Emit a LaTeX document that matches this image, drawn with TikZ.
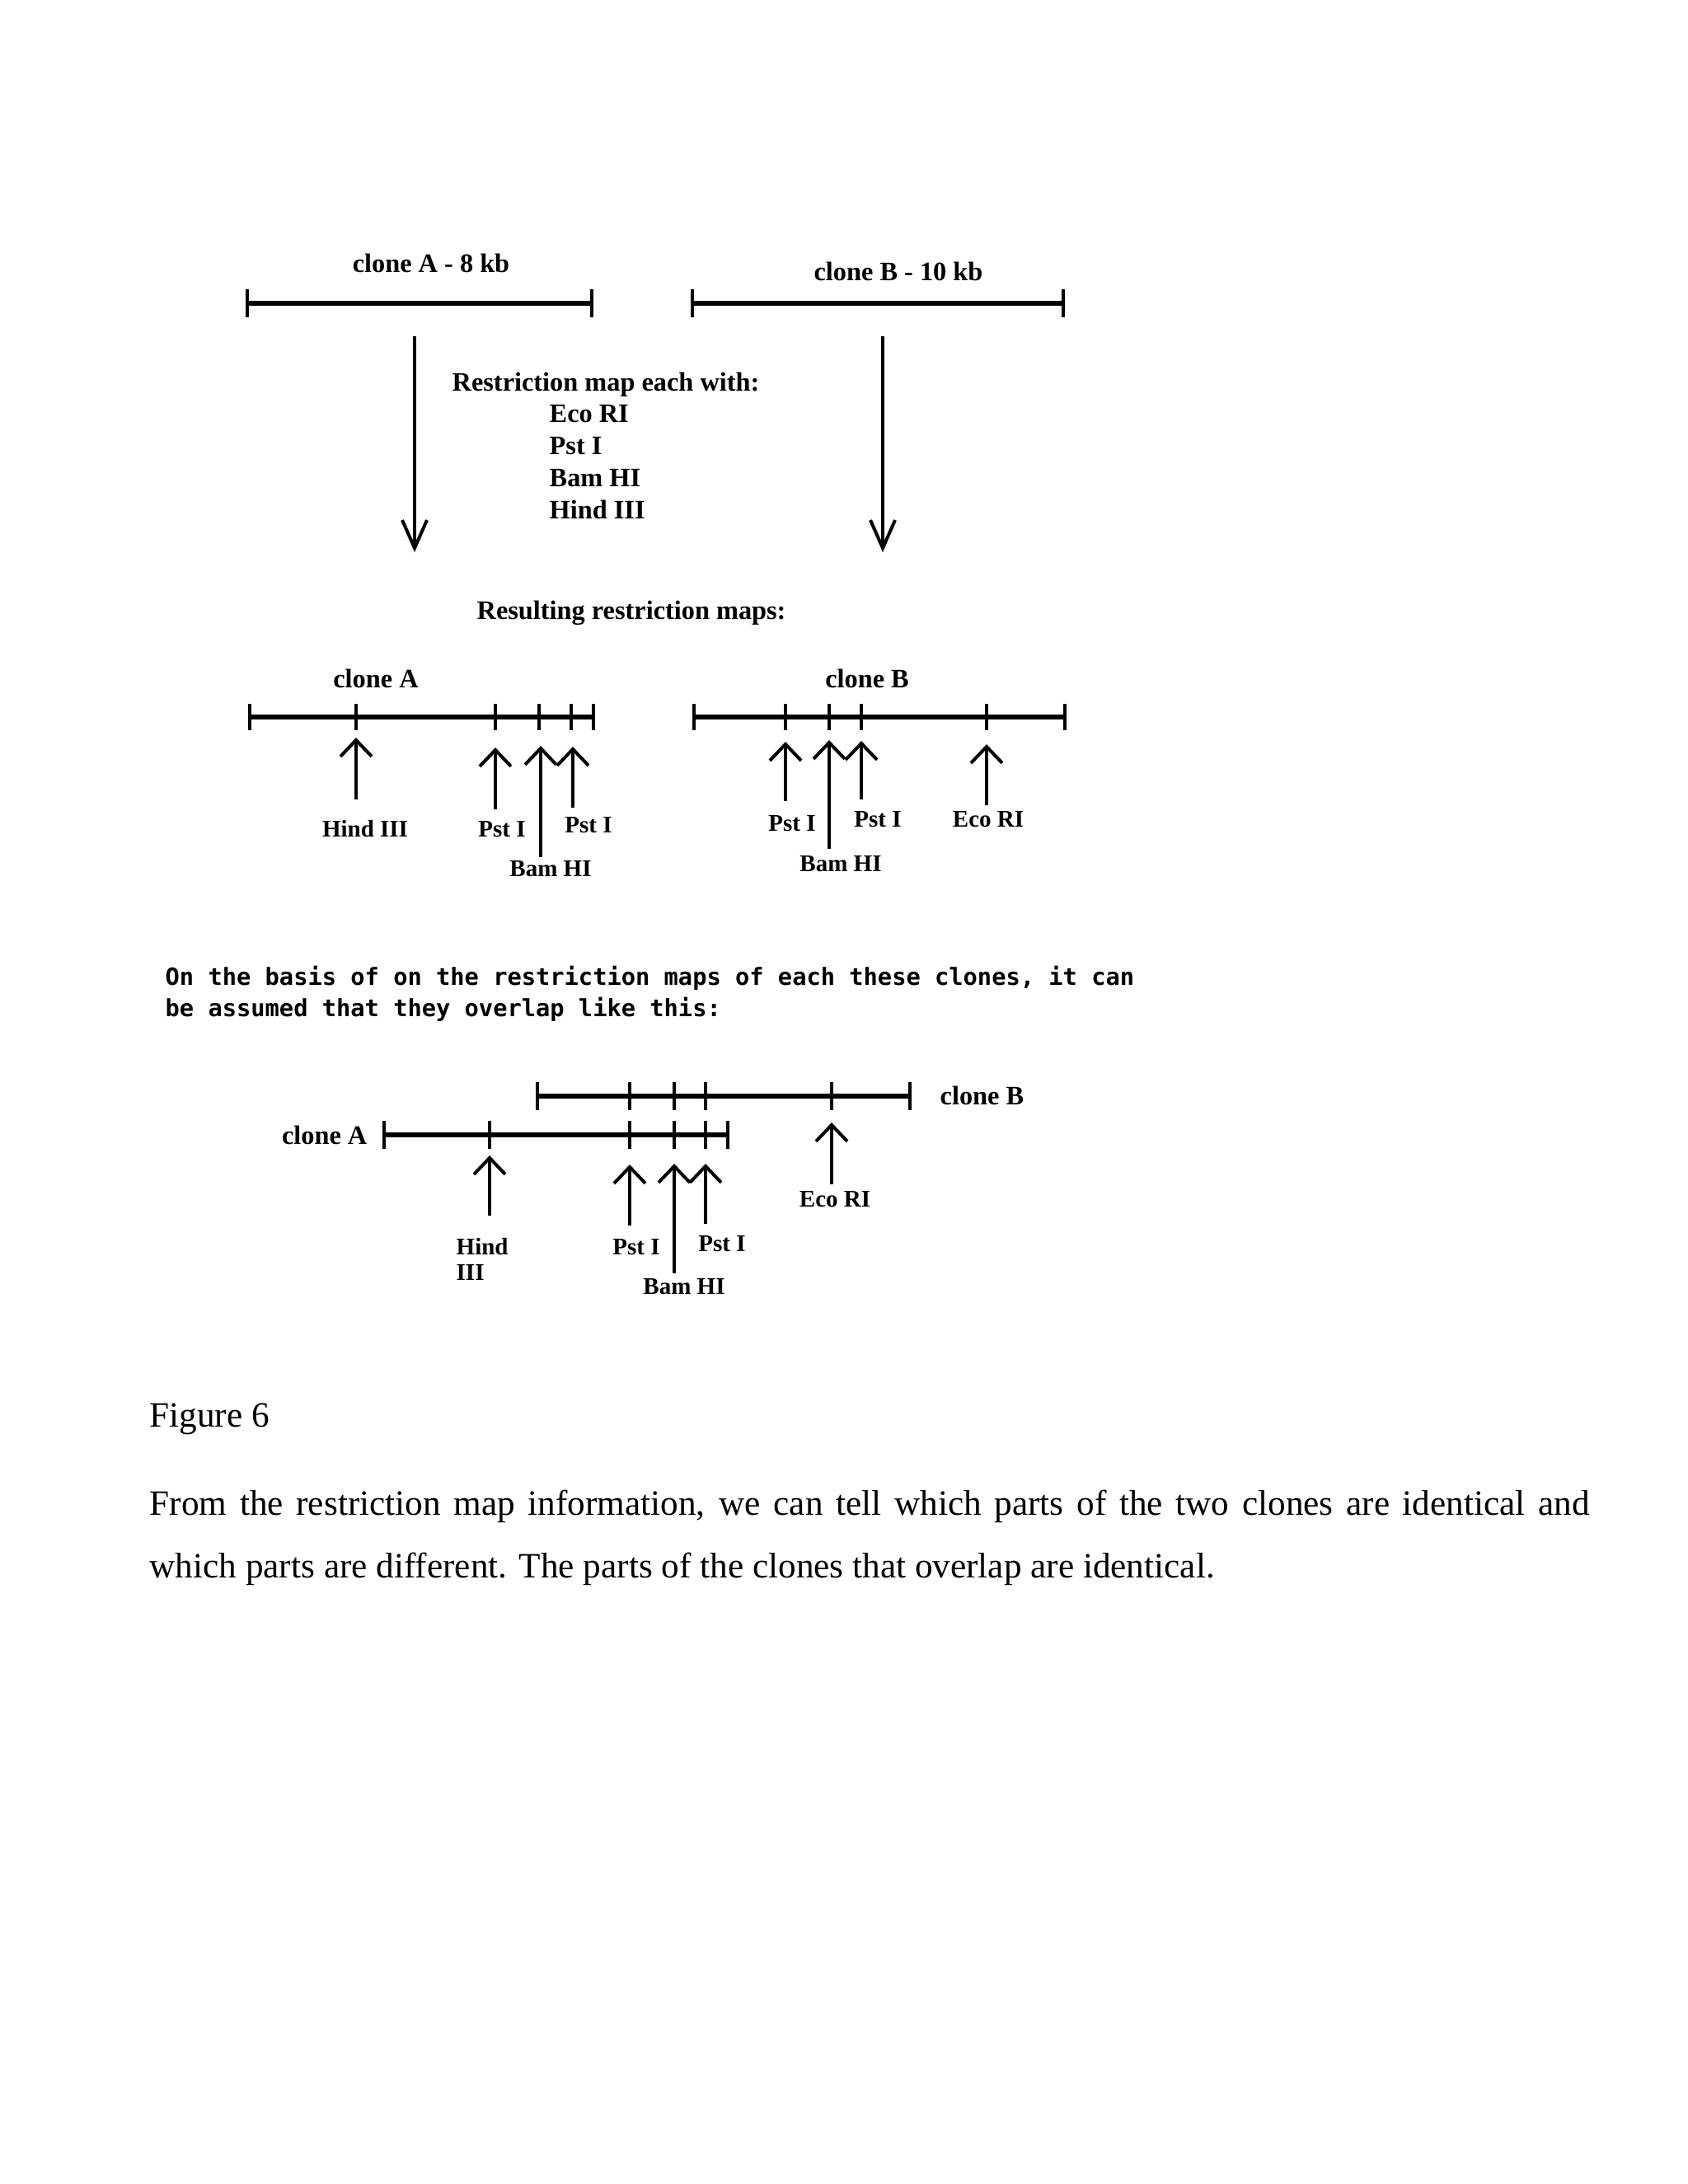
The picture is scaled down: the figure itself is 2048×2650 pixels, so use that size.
\documentclass[tikz,border=0pt]{standalone}
\usepackage{fontspec}
\setmainfont{Liberation Serif}
\newfontfamily\monof{DejaVu Sans Mono}
\usetikzlibrary{arrows.meta}
\begin{document}
\begin{tikzpicture}[x=0.1mm,y=-0.1mm,
  bar/.style={line width=0.55mm},
  endtick/.style={line width=0.4mm},
  bigarrow/.style={line width=0.4mm,-{Straight Barb[length=3.4mm,width=3mm]}},
  sitearrow/.style={line width=0.4mm,-{Straight Barb[length=2mm,width=3.8mm]}},
  head/.style={font=\bfseries\fontsize{9.2pt}{11pt}\selectfont,inner sep=0pt,anchor=base},
  headw/.style={head,anchor=base west},
  site/.style={font=\bfseries\fontsize{8.25pt}{10pt}\selectfont,inner sep=0pt,anchor=base},
  sitew/.style={site,anchor=base west},
  mono/.style={font=\monof\bfseries\fontsize{8.17pt}{10pt}\selectfont,inner sep=0pt,anchor=base west},
  body/.style={font=\fontsize{12.3pt}{14pt}\selectfont,inner sep=0pt,anchor=base west}]
\useasboundingbox[fill=white] (0,0) rectangle (2048,2650);

% ---------- top: the two clones ----------
\node[head] (tA) at (523,330) {clone A - 8 kb};
\node[head] (tB) at (1090,340) {clone B - 10 kb};
\coordinate (a1l) at (300,368); \coordinate (a1r) at (718,368);
\coordinate (b1l) at (840,368); \coordinate (b1r) at (1290,368);
\draw[bar] (a1l) -- (a1r);
\draw[bar] (b1l) -- (b1r);
\foreach \x in {300,718,840,1290}{\draw[endtick] (\x,351) -- (\x,385);}

\coordinate (dA0) at (503,408); \coordinate (dA1) at (503,670);
\coordinate (dB0) at (1071,408); \coordinate (dB1) at (1071,670);
\draw[bigarrow] (dA0) -- (dA1);
\draw[bigarrow] (dB0) -- (dB1);

\node[headw] (rm) at (548,474) {Restriction map each with:};
\node[headw] (e1) at (666,512) {Eco RI};
\node[headw] (e2) at (666,551) {Pst I};
\node[headw] (e3) at (666,590) {Bam HI};
\node[headw] (e4) at (666,629) {Hind III};

% ---------- middle: resulting maps ----------
\node[headw] (res) at (578,751) {Resulting restriction maps:};
\node[head] (mA) at (456,834) {clone A};
\node[head] (mB) at (1052,834) {clone B};

\coordinate (a2l) at (303,870); \coordinate (a2r) at (720,870);
\draw[bar] (a2l) -- (a2r);
\foreach \x in {303,432,601,654,693,720}{\draw[endtick] (\x,854) -- (\x,886);}
\coordinate (b2l) at (842,870); \coordinate (b2r) at (1292,870);
\draw[bar] (b2l) -- (b2r);
\foreach \x in {842,953,1006,1045,1197,1292}{\draw[endtick] (\x,854) -- (\x,886);}

% arrows clone A
\coordinate (h2t) at (432,970); \coordinate (h2h) at (432,895);
\coordinate (p2t) at (601,982); \coordinate (p2h) at (601,907);
\coordinate (m2t) at (656,1040); \coordinate (m2h) at (656,905);
\coordinate (q2t) at (695,980); \coordinate (q2h) at (695,906);
\draw[sitearrow] (h2t) -- (h2h);
\draw[sitearrow] (p2t) -- (p2h);
\draw[sitearrow] (m2t) -- (m2h);
\draw[sitearrow] (q2t) -- (q2h);
\node[site] (lh2) at (443,1015) {Hind III};
\node[site] (lp2) at (609,1015) {Pst I};
\node[site] (lq2) at (714,1010) {Pst I};
\node[site] (lm2) at (668,1063) {Bam HI};

% arrows clone B
\coordinate (p3t) at (953,972); \coordinate (p3h) at (953,900);
\coordinate (m3t) at (1006,1030); \coordinate (m3h) at (1006,898);
\coordinate (q3t) at (1045,970); \coordinate (q3h) at (1045,899);
\coordinate (e3t) at (1197,977); \coordinate (e3h) at (1197,903);
\draw[sitearrow] (p3t) -- (p3h);
\draw[sitearrow] (m3t) -- (m3h);
\draw[sitearrow] (q3t) -- (q3h);
\draw[sitearrow] (e3t) -- (e3h);
\node[site] (lp3) at (961,1008) {Pst I};
\node[site] (lq3) at (1065,1003) {Pst I};
\node[site] (le3) at (1199,1003) {Eco RI};
\node[site] (lm3) at (1020,1057) {Bam HI};

% ---------- explanatory text ----------
\node[mono] (t1) at (200,1195) {On the basis of on the restriction maps of each these clones, it can};
\node[mono] (t2) at (200,1233) {be assumed that they overlap like this:};

% ---------- bottom: overlap ----------
\coordinate (b4l) at (652,1330); \coordinate (b4r) at (1104,1330);
\draw[bar] (b4l) -- (b4r);
\foreach \x in {652,764,818,856,1009,1104}{\draw[endtick] (\x,1313) -- (\x,1347);}
\coordinate (a4l) at (466,1377); \coordinate (a4r) at (883,1377);
\draw[bar] (a4l) -- (a4r);
\foreach \x in {466,594,764,818,856,883}{\draw[endtick] (\x,1360) -- (\x,1394);}
\node[head,anchor=base east] (oA) at (446,1388) {clone A};
\node[headw] (oB) at (1140,1340) {clone B};

\coordinate (h4t) at (594,1475); \coordinate (h4h) at (594,1402);
\coordinate (p4t) at (764,1487); \coordinate (p4h) at (764,1413);
\coordinate (m4t) at (818,1545); \coordinate (m4h) at (818,1412);
\coordinate (q4t) at (856,1485); \coordinate (q4h) at (856,1412);
\coordinate (e4t) at (1009,1437); \coordinate (e4h) at (1009,1362);
\draw[sitearrow] (h4t) -- (h4h);
\draw[sitearrow] (p4t) -- (p4h);
\draw[sitearrow] (m4t) -- (m4h);
\draw[sitearrow] (q4t) -- (q4h);
\draw[sitearrow] (e4t) -- (e4h);
\node[sitew] (lh4a) at (553,1522) {Hind};
\node[sitew] (lh4b) at (553,1553) {III};
\node[site] (lp4) at (772,1522) {Pst I};
\node[site] (lq4) at (876,1518) {Pst I};
\node[site] (lm4) at (830,1570) {Bam HI};
\node[site] (le4) at (1013,1464) {Eco RI};

% ---------- caption and paragraph ----------
\node[body] (fig) at (181,1731) {Figure 6};
\node[body] (p1) at (181,1838) {\makebox[174.7mm][s]{From the restriction map information, we can tell which parts of the two clones are identical and}};
\node[body] (p2) at (181,1914) {which parts are different. The parts of the clones that overlap are identical.};
\end{tikzpicture}
\end{document}
